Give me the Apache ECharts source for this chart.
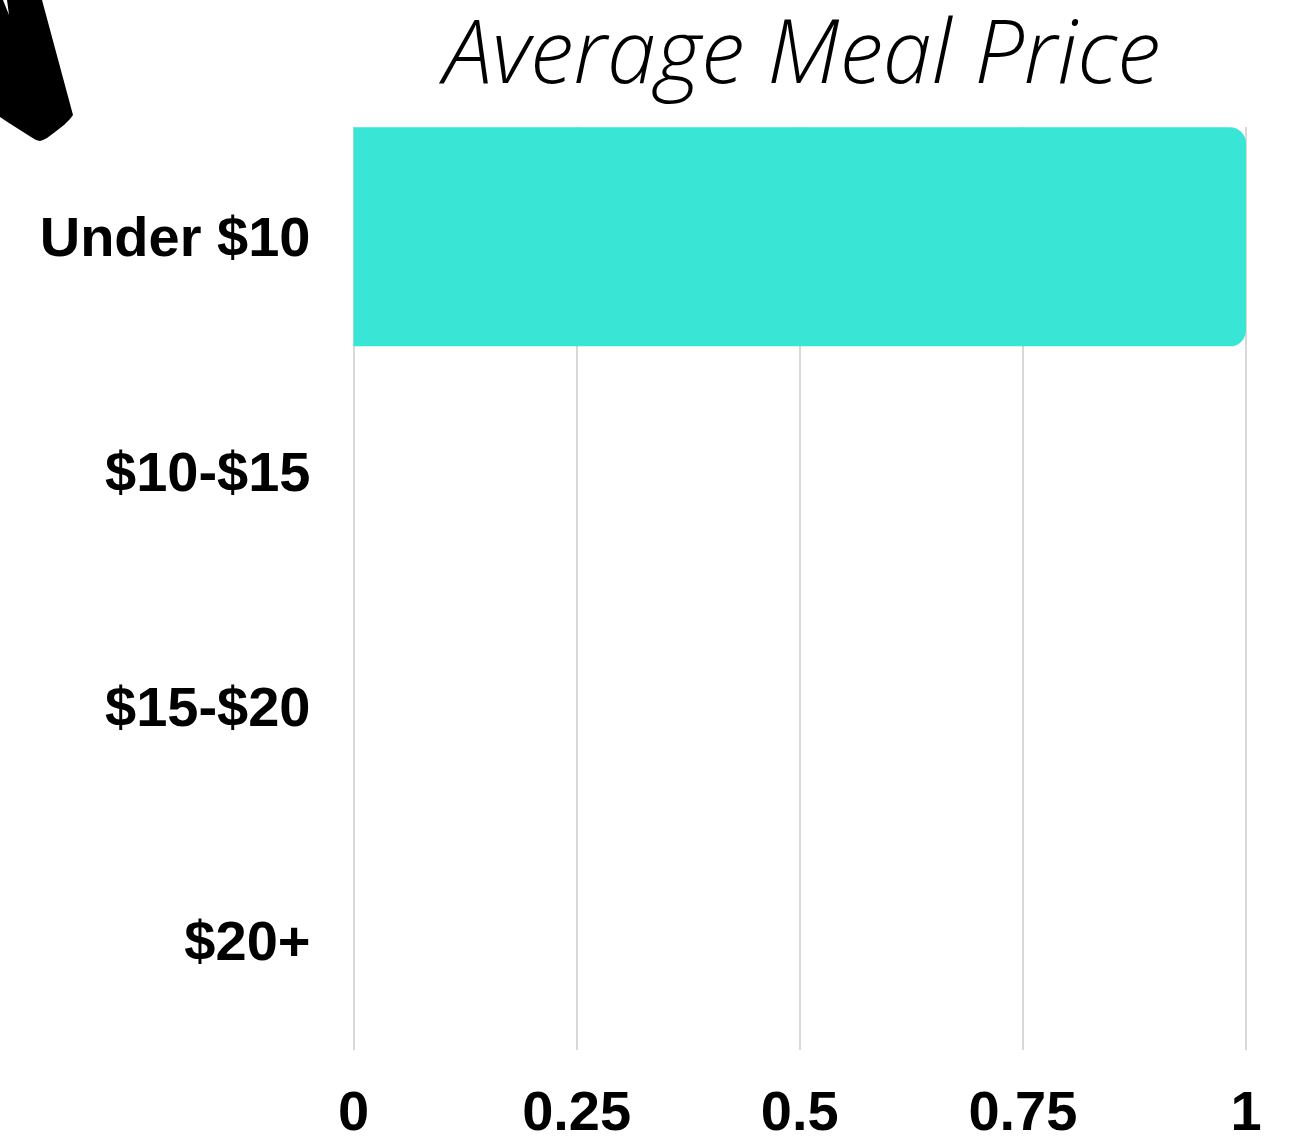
<!DOCTYPE html>
<html>
<head>
<meta charset="utf-8">
<title>Average Meal Price</title>
<script src="https://cdn.jsdelivr.net/npm/echarts@6/dist/echarts.min.js"></script>
<style>
  html, body { margin: 0; padding: 0; background: #fff; }
  #chart { width: 1307px; height: 1139px; }
</style>
</head>
<body>
<div id="chart"></div>
<script>
const categories = ['Under $10', '$10-$15', '$15-$20', '$20+'];
const values = [1, 0, 0, 0];
const axisMin = 0;
const axisMax = 1;
const axisStep = 0.25;

const labelFont = { fontFamily: 'Liberation Sans', fontWeight: 'bold', fontSize: 56, color: '#000' };

const chart = echarts.init(document.getElementById('chart'), null, { renderer: 'canvas' });
chart.setOption({
  animation: false,
  backgroundColor: '#fff',
  title: {
    text: 'Average Meal Price',
    left: 797,
    top: 9,
    textAlign: 'center',
    textStyle: { fontFamily: 'Open Sans', fontStyle: 'italic', fontWeight: 300, fontSize: 88, color: '#000' }
  },
  // cut off logo in the top left corner
  graphic: [{
    type: 'polygon',
    shape: {
      points: [[0, 0], [3, 0], [9, 15], [7, 0], [42, 0], [73, 115], [70, 119], [64, 125], [55, 132],
        [47, 138], [43, 140], [40, 141], [36, 140], [31, 137], [9, 123], [0, 117]]
    },
    style: { fill: '#000' }
  }],
  // two grids: the gridlines stop at the bar edges, the bands run a bit past them
  grid: [
    { left: 353.5, width: 892.5, top: 119.5, height: 938.5, outerBoundsMode: 'none' },
    { left: 353.5, width: 892.5, top: 127, height: 923, outerBoundsMode: 'none' }
  ],
  xAxis: [
    { gridIndex: 0, type: 'value', min: axisMin, max: axisMax, show: false },
    {
      gridIndex: 1,
      type: 'value',
      min: axisMin,
      max: axisMax,
      interval: axisStep,
      axisLine: { show: false },
      axisTick: { show: false },
      axisLabel: { ...labelFont, margin: 37, hideOverlap: false },
      splitLine: { show: true, lineStyle: { color: '#d9d9d9', width: 2 } }
    }
  ],
  yAxis: [
    {
      gridIndex: 0,
      type: 'category',
      inverse: true,
      data: categories,
      axisLine: { show: false },
      axisTick: { show: false },
      axisLabel: {
        ...labelFont,
        margin: 43,
        formatter: '{a|{value}}',
        rich: { a: { ...labelFont, padding: [8, 0, 0, 0] } }
      }
    },
    { gridIndex: 1, type: 'value', show: false }
  ],
  series: [{
    type: 'bar',
    xAxisIndex: 0,
    yAxisIndex: 0,
    data: values,
    barWidth: 219,
    itemStyle: { color: '#39e6d5', borderRadius: [0, 16, 16, 0] }
  }]
});
</script>
</body>
</html>
